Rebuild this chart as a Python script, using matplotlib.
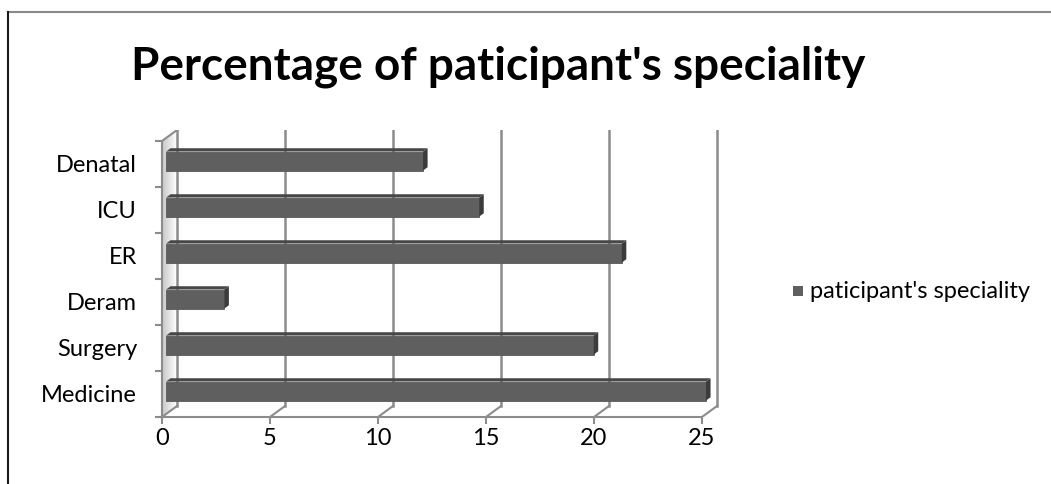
import numpy as np
import matplotlib.pyplot as plt
from matplotlib.patches import Polygon, Rectangle
from matplotlib.lines import Line2D

# data, bottom to top
categories = ['Medicine', 'Surgery', 'Deram', 'ER', 'ICU', 'Denatal']
values = [25.0, 19.8, 2.7, 21.1, 14.5, 11.9]
x_ticks = [0, 5, 10, 15, 20, 25]
series_name = "paticipant's speciality"
title = "Percentage of paticipant's speciality"

plt.rcParams['font.family'] = ['Lato', 'DejaVu Sans']

W, H = 1051, 484
fig = plt.figure(figsize=(W / 100, H / 100), dpi=100)

# outer chart frame (runs off the right/bottom edge)
fig.add_artist(Line2D([8 / W, 1.0], [1 - 12 / H, 1 - 12 / H], color='#8a8a8a', lw=1.5))
fig.add_artist(Line2D([8 / W, 8 / W], [0, 1 - 12 / H], color='#1a1a1a', lw=1.5))

# plot area: front 0..25 spans 162..702 px, bottom at 417 px, back top at 130 px
px_unit = 21.6
left, right, bottom, top = 162, 720, 417, 130
ax = fig.add_axes([left / W, 1 - bottom / H, (right - left) / W, (bottom - top) / H])
n = len(categories)
cat_px = 46.0
dx = 15 / px_unit          # depth shift in x (data units)
dy = 11 / cat_px           # depth shift in y (category units)
ax.set_xlim(0, (right - left) / px_unit)
ax.set_ylim(-0.5, n - 0.5 + dy)

grid_c = '#8c8c8c'
for s in ['top', 'right']:
    ax.spines[s].set_visible(False)
for s in ['left', 'bottom']:
    ax.spines[s].set_color(grid_c)
    ax.spines[s].set_linewidth(1.5)
ax.spines['bottom'].set_bounds(0, x_ticks[-1])
ax.spines['left'].set_bounds(-0.5, n - 0.5)

fs = 17
ax.set_xticks(x_ticks)
ax.set_xticklabels([str(t) for t in x_ticks])
ax.set_yticks(np.arange(n + 1) - 0.5)
ax.set_yticklabels([])
ax.set_yticks(np.arange(n), minor=True)
ax.set_yticklabels(categories, minor=True)
ax.tick_params(axis='both', which='major', color=grid_c, width=1.5, length=5, labelsize=fs)
ax.tick_params(axis='x', pad=3)
ax.tick_params(axis='y', which='minor', length=0, pad=18, labelsize=fs)

# left side wall with soft shading
wall = Polygon([(0, -0.5), (dx, -0.5 + dy), (dx, n - 0.5 + dy), (0, n - 0.5)],
               closed=True, facecolor='none', edgecolor='none')
ax.add_patch(wall)
grad = np.linspace(0.78, 1.0, 64).reshape(1, -1)
im = ax.imshow(grad, cmap='gray', vmin=0, vmax=1, aspect='auto',
               extent=[0, dx, -0.5, n - 0.5 + dy], zorder=0.5, interpolation='bilinear')
im.set_clip_path(wall)
ax.plot([0, dx], [n - 0.5, n - 0.5 + dy], color=grid_c, lw=1.5, zorder=1)

# back wall gridlines and floor diagonals
for t in x_ticks:
    ax.plot([t + dx, t + dx], [-0.5 + dy, n - 0.5 + dy], color=grid_c, lw=1.8, zorder=1)
    ax.plot([t, t + dx], [-0.5, -0.5 + dy], color=grid_c, lw=1.5, zorder=1)

# 3D bars
f = 0.27          # depth of the bar front face
t_d = 0.3         # bar depth
h = 19 / cat_px
front_c, top_c, side_c = '#5f5f5f', '#474747', '#3b3b3b'
for i, v in enumerate(values):
    x0 = f * dx
    y0 = i - h / 2 + f * dy
    y1 = y0 + h
    ox, oy = t_d * dx, t_d * dy
    ax.add_patch(Rectangle((x0, y0), v, h, facecolor=front_c, edgecolor='#595959', lw=0.6, zorder=3))
    ax.add_patch(Polygon([(x0, y1), (x0 + v, y1), (x0 + v + ox, y1 + oy), (x0 + ox, y1 + oy)],
                         closed=True, facecolor=top_c, edgecolor='none', zorder=3))
    ax.add_patch(Polygon([(x0 + v, y0), (x0 + v, y1), (x0 + v + ox, y1 + oy), (x0 + v + ox, y0 + oy)],
                         closed=True, facecolor=side_c, edgecolor='none', zorder=3))

# title
fig.text(498 / W, 1 - 67 / H, title, ha='center', va='center', fontsize=33, fontweight='bold')

# legend
fig.add_artist(Rectangle((793 / W, 1 - 296 / H), 10 / W, 10 / H, facecolor=front_c,
                         edgecolor='none', transform=fig.transFigure))
fig.text(810 / W, 1 - 291 / H, series_name, ha='left', va='center', fontsize=17)

fig.savefig('out.png', dpi=100)
